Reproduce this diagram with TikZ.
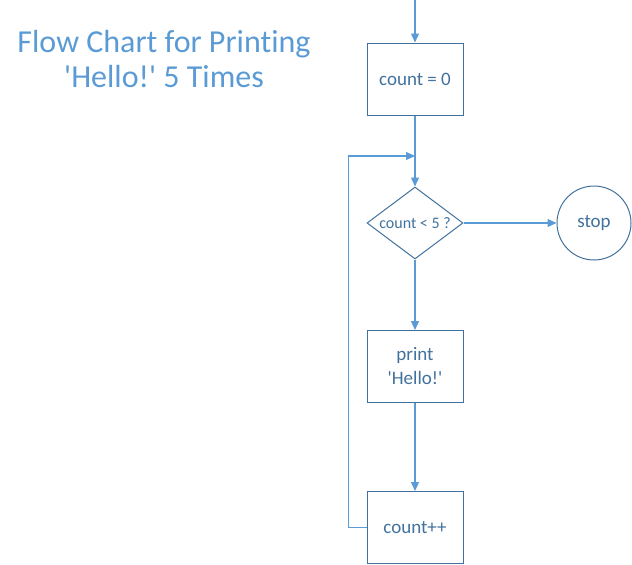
\documentclass[tikz,border=0pt]{standalone}
\usepackage{fontspec}
\setmainfont[Ligatures={TeX,NoCommon}]{Carlito}
\usetikzlibrary{arrows.meta,shapes.geometric}
\definecolor{titleblue}{RGB}{91,155,213}
\definecolor{lineblue}{RGB}{91,155,213}
\definecolor{boxblue}{RGB}{65,113,156}
\tikzset{
	stepbox/.style={draw=boxblue, line width=1pt, minimum width=96pt, minimum height=72pt, inner sep=0pt, align=center, text=boxblue, font=\fontsize{19}{24}\selectfont},
	testbox/.style={draw=boxblue, line width=1pt, shape=diamond, aspect=1.333, minimum width=96pt, minimum height=72pt, inner sep=0pt, text=boxblue, font=\fontsize{16}{19}\selectfont},
	endbox/.style={draw=boxblue, line width=1pt, circle, minimum size=74pt, inner sep=0pt, text=boxblue, font=\fontsize{19}{24}\selectfont},
	flow/.style={draw=lineblue, line width=1.1pt, -{Triangle[width=8pt,length=9pt]}}
}
\begin{document}
\begin{tikzpicture}[x=1pt, y=-1pt]
	\useasboundingbox (0,0) rectangle (632,565);
	% title
	\node[titleblue, align=center, font=\fontsize{32}{35}\selectfont] (title) at (164,59.5) {Flow Chart for Printing\\\textquotesingle Hello!\textquotesingle\ 5 Times};
	
	% steps
	\coordinate (start) at (415,0);
	\node[stepbox] (init) at (415,79) {count = 0};
	\coordinate (merge) at (415,156);
	\node[testbox] (test) at (415,223) {count < 5 ?};
	\node[endbox] (stop) at (594,223) {stop};
	\node[stepbox] (print) at (415,366.5) {print\\\textquotesingle Hello!\textquotesingle};
	\node[stepbox] (incr) at (415,527.5) {count++};
	
	% connectors
	\draw[flow] (start) -- (init);
	\draw[flow] (init) -- (test);
	\draw[flow] (test) -- (stop);
	\draw[flow] (test) -- (print);
	\draw[flow] (print) -- (incr);
	% loop back
	\draw[flow] (incr.west) -- ++(-18,0) |- (merge);
\end{tikzpicture}
\end{document}
